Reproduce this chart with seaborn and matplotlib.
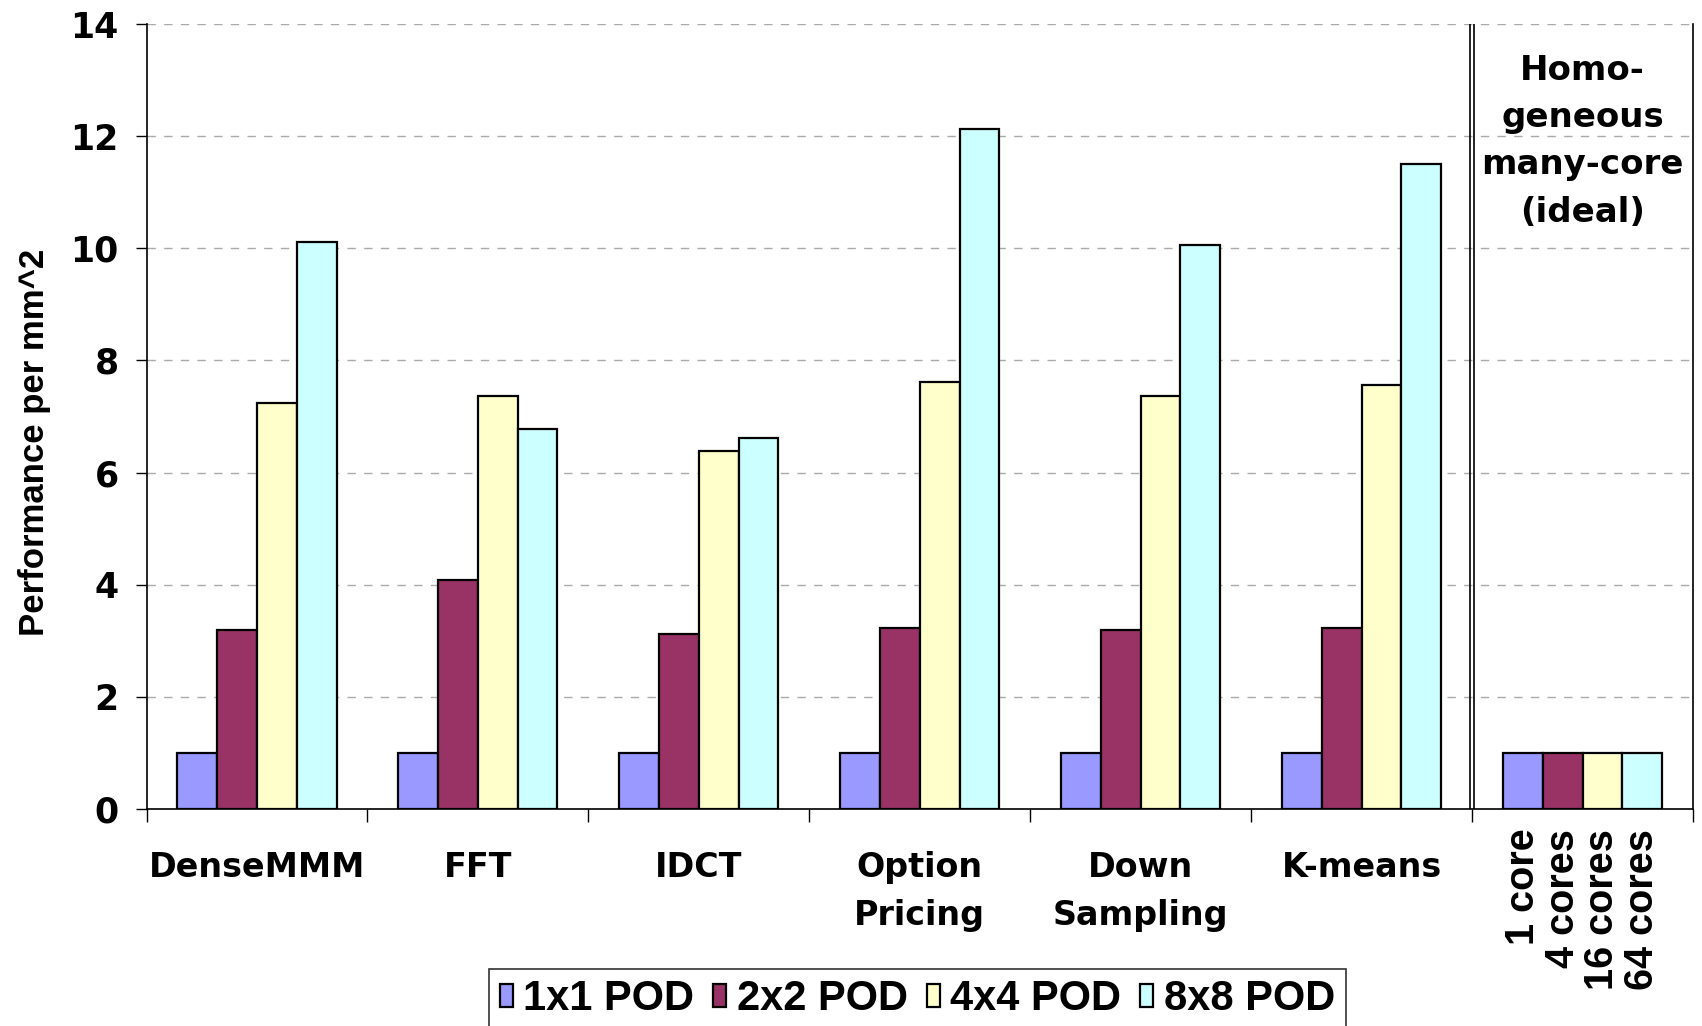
import numpy as np
import pandas as pd
import seaborn as sns
import matplotlib.pyplot as plt

# Data
categories = ['DenseMMM', 'FFT', 'IDCT', 'Option\nPricing', 'Down\nSampling', 'K-means', 'Homo']
pods = ['1x1 POD', '2x2 POD', '4x4 POD', '8x8 POD']
pod_1x1 = [1, 1, 1, 1, 1, 1, 1]
pod_2x2 = [3.19, 4.09, 3.12, 3.22, 3.19, 3.22, 1]
pod_4x4 = [7.24, 7.36, 6.38, 7.61, 7.36, 7.57, 1]
pod_8x8 = [10.11, 6.78, 6.62, 12.13, 10.06, 11.51, 1]
core_labels = ['1 core', '4 cores', '16 cores', '64 cores']
colors = ['#9999FF', '#993366', '#FFFFCC', '#CCFFFF']

df = pd.DataFrame({'cat': categories, '1x1 POD': pod_1x1, '2x2 POD': pod_2x2,
                   '4x4 POD': pod_4x4, '8x8 POD': pod_8x8})
df = df.melt(id_vars='cat', var_name='pod', value_name='perf')

sns.set_style('white')
plt.rcParams.update({'text.color': 'black', 'axes.labelcolor': 'black',
                     'xtick.color': 'black', 'ytick.color': 'black'})
narrow = ['Liberation Sans', 'DejaVu Sans']

fig = plt.figure(figsize=(17.02, 10.26), dpi=100)
ax = fig.add_axes([0.0861, 0.2115, 0.9086, 0.7651])

sns.barplot(data=df, x='cat', y='perf', hue='pod', hue_order=pods, palette=colors,
            width=0.72, edgecolor='black', linewidth=1.6, saturation=1, ax=ax)

ax.set_ylim(0, 14)
ax.set_xlim(-0.5, 6.5)
ax.set_yticks(np.arange(0, 15, 2))
ax.set_yticklabels([str(v) for v in range(0, 15, 2)], fontsize=25, fontweight='bold',
                   family='DejaVu Sans')
ax.tick_params(axis='y', direction='out', length=8, width=1, pad=12, left=True)
ax.grid(axis='y', color='#aaaaaa', linestyle=(0, (6, 6)), linewidth=1)
ax.set_axisbelow(True)

# category labels centred, ticks on the boundaries
ax.set_xticks(range(len(categories)))
ax.set_xticklabels(categories[:-1] + [''], fontsize=24, fontweight='bold',
                   family='DejaVu Sans', linespacing=1.58)
ax.tick_params(axis='x', which='major', length=0, pad=30)
ax.set_xticks(np.arange(-0.5, len(categories), 1), minor=True)
ax.tick_params(axis='x', which='minor', direction='out', length=9, width=1, bottom=True)
ax.set_xlabel('')

ax.set_ylabel('Performance per mm^2', fontsize=25, fontweight='bold', family=narrow)
ax.yaxis.set_label_coords(-0.062, 0.4675)

for side in ['left', 'bottom', 'right']:
    ax.spines[side].set_visible(True)
    ax.spines[side].set_color('black')
    ax.spines[side].set_linewidth(1.2)
ax.spines['top'].set_visible(False)

# double separator before the homogeneous group
ax.axvline(5.5 - 0.009, color='black', lw=1.2)
ax.axvline(5.5 + 0.009, color='black', lw=1.2)

ax.text(6, 0.962, 'Homo-\ngeneous\nmany-core\n(ideal)', transform=ax.get_xaxis_transform(),
        ha='center', va='top', fontsize=24.5, fontweight='bold', family='DejaVu Sans',
        linespacing=1.55)

# rotated labels under the homogeneous bars
last = sorted([p for p in ax.patches if p.get_height() > 0 and p.get_x() > 5.5],
              key=lambda p: p.get_x())
for p, lab in zip(last, core_labels):
    ax.text(p.get_x() + p.get_width() / 2, -0.025, lab, transform=ax.get_xaxis_transform(),
            rotation=90, ha='center', va='top', fontsize=28.5, fontweight='bold', family=narrow)

handles, labels = ax.get_legend_handles_labels()
ax.get_legend().remove()
leg = fig.legend(handles, labels, loc='upper center', bbox_to_anchor=(0.539, 0.0556),
                 ncol=4, frameon=True, fancybox=False, edgecolor='black',
                 prop={'family': narrow, 'weight': 'bold', 'size': 30},
                 handlelength=0.32, handleheight=0.45, handletextpad=0.25,
                 columnspacing=0.45, borderpad=0.25, borderaxespad=0)
leg.get_frame().set_linewidth(1.2)

fig.savefig('out.png', dpi=100)
